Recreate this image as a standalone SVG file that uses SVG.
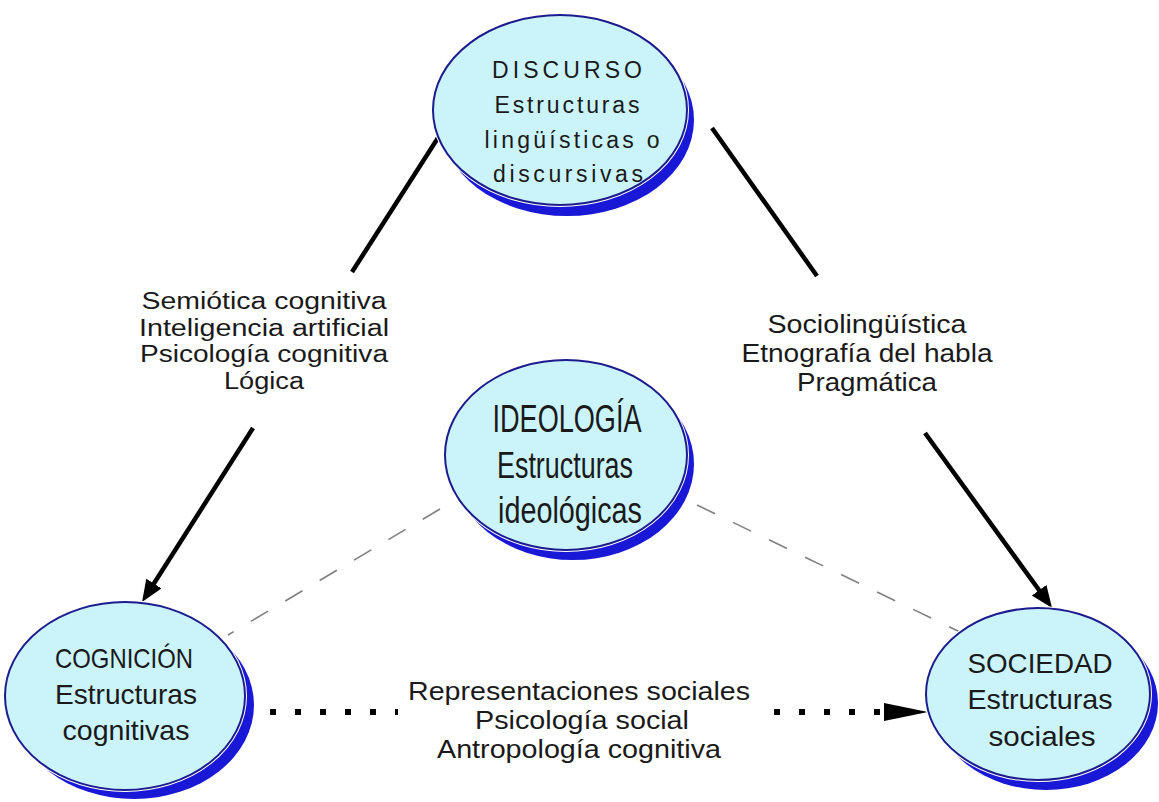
<svg xmlns="http://www.w3.org/2000/svg" width="1159" height="802" viewBox="0 0 1159 802">
<style>
.shadow{fill:#1818d6;}
.halo{fill:none;stroke:#ffffff;stroke-width:4;}
.body{fill:#cbf4fa;stroke:#1c1c8e;stroke-width:2;}
.nt{font-family:"Liberation Sans",Arial,sans-serif;fill:#1a1a1a;text-anchor:middle;}
.lbl{font-family:"Liberation Sans",Arial,sans-serif;font-size:25px;fill:#1a1a1a;text-anchor:middle;}
.lbs{font-family:"Liberation Sans",Arial,sans-serif;font-size:23px;fill:#1a1a1a;text-anchor:middle;}
.solid{stroke:#000;stroke-width:4.5;fill:none;}
.dash{stroke:#808080;stroke-width:1.6;stroke-dasharray:20 20;fill:none;}
.dots{stroke:#000;stroke-width:6;stroke-dasharray:6 19;fill:none;}
</style>
<defs>
<marker id="ah" markerUnits="userSpaceOnUse" markerWidth="24" markerHeight="20" refX="10" refY="9" orient="auto">
<path d="M0,0 L22,9 L0,18 z" fill="#000"/>
</marker>
</defs>
<rect width="1159" height="802" fill="#ffffff"/>

<g id="connectors">
<line class="solid" x1="443" y1="130" x2="352" y2="272"/>
<line class="solid" x1="253" y1="428" x2="148.5" y2="592" marker-end="url(#ah)"/>
<line class="solid" x1="712" y1="128" x2="817" y2="276"/>
<line class="solid" x1="925" y1="433" x2="1045" y2="598.3" marker-end="url(#ah)"/>
<line class="dash" x1="440" y1="509" x2="228" y2="635"/>
<line class="dash" x1="697" y1="505" x2="962" y2="633"/>
<line class="dots" x1="270" y1="712" x2="398" y2="712"/>
<line class="dots" x1="774" y1="712" x2="880" y2="712"/>
<path d="M884,703 L928,712 L884,721 z" fill="#000"/>
<text class="lbs" x="264" y="309" textLength="245" lengthAdjust="spacingAndGlyphs">Semiótica cognitiva</text>
<text class="lbs" x="264" y="335.5" textLength="250" lengthAdjust="spacingAndGlyphs">Inteligencia artificial</text>
<text class="lbs" x="264" y="362" textLength="248" lengthAdjust="spacingAndGlyphs">Psicología cognitiva</text>
<text class="lbs" x="264" y="388.5" textLength="80" lengthAdjust="spacingAndGlyphs">Lógica</text>
<text class="lbl" x="867" y="333" textLength="199" lengthAdjust="spacingAndGlyphs">Sociolingüística</text>
<text class="lbl" x="867" y="362" textLength="251" lengthAdjust="spacingAndGlyphs">Etnografía del habla</text>
<text class="lbl" x="867" y="391" textLength="140" lengthAdjust="spacingAndGlyphs">Pragmática</text>
<text class="lbl" x="579" y="700" textLength="342" lengthAdjust="spacingAndGlyphs">Representaciones sociales</text>
<text class="lbl" x="582" y="729" textLength="214" lengthAdjust="spacingAndGlyphs">Psicología social</text>
<text class="lbl" x="579" y="758" textLength="284" lengthAdjust="spacingAndGlyphs">Antropología cognitiva</text>
</g>

<g id="discurso">
<ellipse class="shadow" cx="567" cy="120" rx="127" ry="96"/>
<ellipse class="halo" cx="560" cy="110" rx="127" ry="95"/>
<ellipse class="body" cx="560" cy="110" rx="127" ry="95"/>
<text class="nt" font-size="23" x="567" y="78" textLength="150" lengthAdjust="spacing">DISCURSO</text>
<text class="nt" font-size="23" x="567" y="113" textLength="145" lengthAdjust="spacing">Estructuras</text>
<text class="nt" font-size="23" x="572" y="148" textLength="175" lengthAdjust="spacing">lingüísticas o</text>
<text class="nt" font-size="23" x="568" y="182" textLength="150" lengthAdjust="spacing">discursivas</text>
</g>

<g id="ideologia">
<ellipse class="shadow" cx="573" cy="464" rx="121" ry="96"/>
<ellipse class="halo" cx="566" cy="455" rx="121" ry="95"/>
<ellipse class="body" cx="566" cy="455" rx="121" ry="95"/>
<text class="nt" font-size="38" x="567" y="432" textLength="149" lengthAdjust="spacingAndGlyphs">IDEOLOGÍA</text>
<text class="nt" font-size="36" x="565" y="478" textLength="136" lengthAdjust="spacingAndGlyphs">Estructuras</text>
<text class="nt" font-size="36" x="570" y="523" textLength="144" lengthAdjust="spacingAndGlyphs">ideológicas</text>
</g>

<g id="cognicion">
<ellipse class="shadow" cx="134" cy="705" rx="120" ry="94"/>
<ellipse class="halo" cx="125" cy="696" rx="120" ry="94"/>
<ellipse class="body" cx="125" cy="696" rx="120" ry="94"/>
<text class="nt" font-size="28" x="124" y="668" textLength="138" lengthAdjust="spacingAndGlyphs">COGNICIÓN</text>
<text class="nt" font-size="28" x="126" y="704" textLength="142" lengthAdjust="spacingAndGlyphs">Estructuras</text>
<text class="nt" font-size="28" x="126" y="740" textLength="127" lengthAdjust="spacingAndGlyphs">cognitivas</text>
</g>

<g id="sociedad">
<ellipse class="shadow" cx="1046" cy="703" rx="112" ry="87"/>
<ellipse class="halo" cx="1038" cy="694" rx="112" ry="86"/>
<ellipse class="body" cx="1038" cy="694" rx="112" ry="86"/>
<text class="nt" font-size="28" x="1040" y="673" textLength="145" lengthAdjust="spacingAndGlyphs">SOCIEDAD</text>
<text class="nt" font-size="28" x="1040" y="709" textLength="145" lengthAdjust="spacingAndGlyphs">Estructuras</text>
<text class="nt" font-size="28" x="1042" y="746" textLength="107" lengthAdjust="spacingAndGlyphs">sociales</text>
</g>
</svg>
